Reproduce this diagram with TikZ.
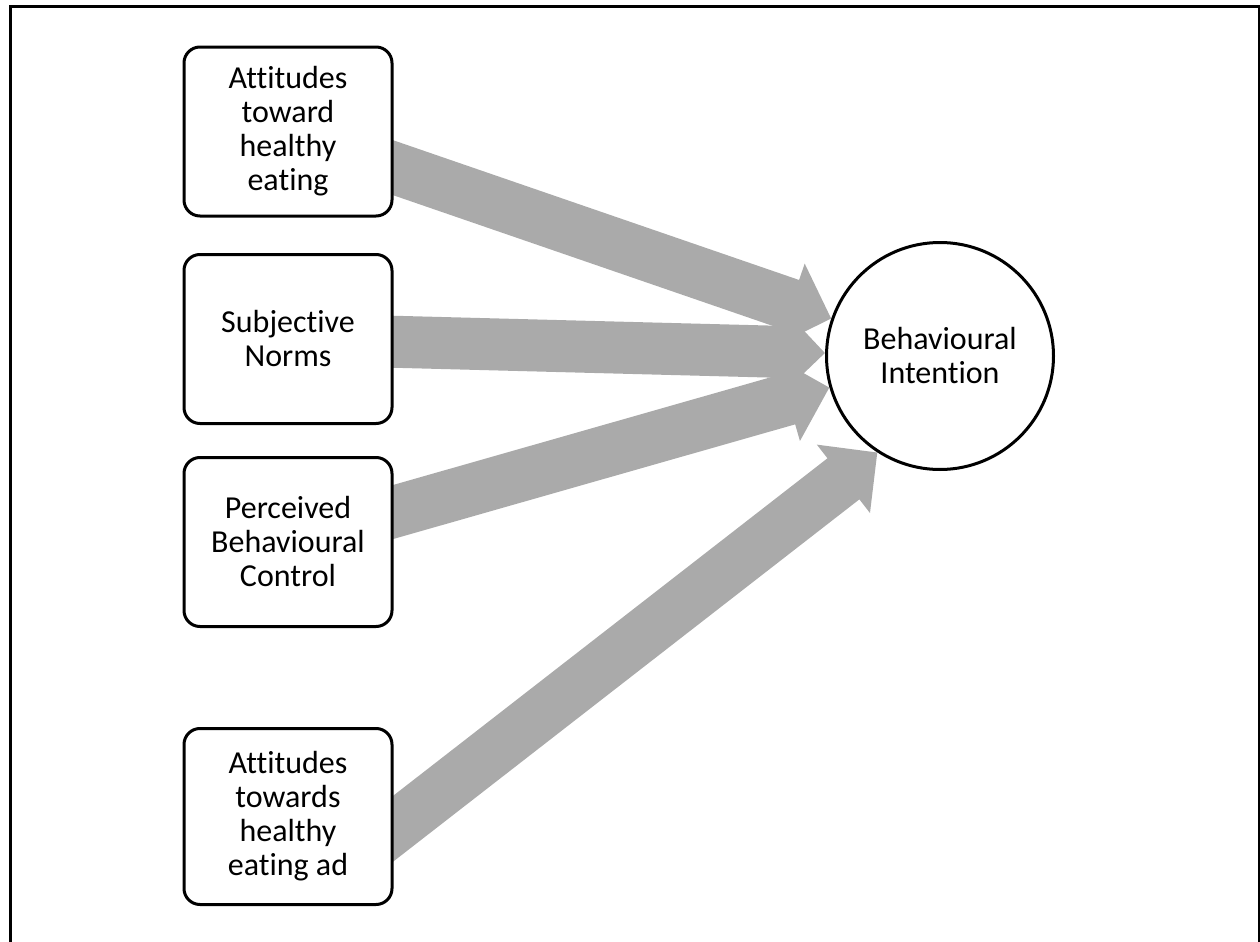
\documentclass[tikz,border=0pt]{standalone}
\usepackage{fontspec}
\setmainfont[Ligatures=NoCommon]{Carlito}
\usetikzlibrary{positioning,calc,arrows.meta,backgrounds}

\definecolor{arrowgray}{RGB}{170,170,170}

\begin{document}
\begin{tikzpicture}[x=0.5pt,y=-0.5pt,
  font=\fontsize{16}{17}\selectfont,
  box/.style={draw, line width=1.5pt, rounded corners=8pt, fill=white,
    align=center, minimum width=104pt, minimum height=84.5pt, inner sep=2pt},
  bigarrow/.style={draw=arrowgray, line width=26pt,
    -{Triangle[length=21.5pt,width=42pt]}}]
  \useasboundingbox (0,0) rectangle (1260,942);

  % Draw the outer frame
  \draw[line width=1.5pt] (10,960) |- (1259,6.5) -- (1259,960);

  % Draw the predictors
  \node[box] (attitude) at (288,131.5) {Attitudes\\toward\\healthy\\eating};
  \node[box] (norms) at (288,339) {Subjective\\Norms};
  \node[box] (control) at (288,542) {Perceived\\Behavioural\\Control};
  \node[box, minimum height=88pt] (adattitude) at (288,816.5) {Attitudes\\towards\\healthy\\eating ad};

  % Draw the outcome
  \node[draw, circle, line width=1.5pt, fill=white, align=center,
    minimum size=113.5pt, inner sep=0pt] (intention) at (940,356) {Behavioural\\Intention};

  % Draw the arrows behind the boxes
  \begin{scope}[on background layer]
    \draw[bigarrow] (attitude.center) -- (intention);
    \draw[bigarrow] (norms.center) -- (intention);
    \draw[bigarrow] (control.center) -- (intention);
    \draw[bigarrow] ($(adattitude.center)+(52,53.5)$) -- (intention.237);
  \end{scope}
\end{tikzpicture}
\end{document}
